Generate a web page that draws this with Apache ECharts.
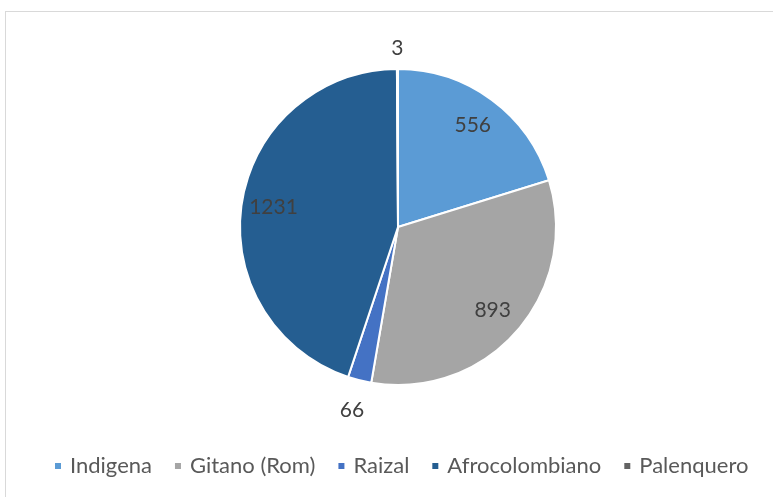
<!DOCTYPE html>
<html><head><meta charset="utf-8">
<script src="https://cdn.jsdelivr.net/npm/echarts@6/dist/echarts.min.js"></script>
<style>
html,body{margin:0;padding:0;background:#fff;}
#frame{position:absolute;left:5px;top:11px;width:800px;height:520px;border:1px solid #d9d9d9;box-sizing:border-box;}
#c{position:absolute;left:0;top:0;width:773px;height:497px;}
</style></head>
<body>
<div id="frame"></div>
<div id="c"></div>
<script>
const categories = ['Indigena', 'Gitano (Rom)', 'Raizal', 'Afrocolombiano', 'Palenquero'];
const values = [556, 893, 66, 1231, 3];
const colors = ['#5B9BD5', '#A5A5A5', '#4472C4', '#255E91', '#636363'];

const chart = echarts.init(document.getElementById('c'), null, {renderer: 'canvas'});
const center = [398, 227];
const font = 'Lato, "Open Sans", sans-serif';

function mk(show) {
  return categories.map((n, i) => ({
    name: n, value: values[i],
    label: {show: show.indexOf(n) >= 0}
  }));
}
function ghost(name, outerR, show) {
  return {
    type: 'pie', name, center, radius: [0, outerR], startAngle: 90, clockwise: true, silent: true,
    itemStyle: {color: 'rgba(0,0,0,0)', borderWidth: 0},
    emphasis: {disabled: true}, labelLine: {show: false},
    legendHoverLink: false, animation: false,
    data: mk(show),
    label: {position: 'inside', formatter: '{c}', fontFamily: font, fontSize: 21, color: '#404040'}
  };
}
chart.setOption({
  animation: false,
  color: colors,
  legend: {
    data: categories, bottom: 15, left: 48,
    icon: 'rect', itemWidth: 8, itemHeight: 8, itemGap: 21,
    textStyle: {fontFamily: font, fontSize: 22, color: '#595959', padding: [0, 0, 0, 3]}
  },
  series: [
    {
      type: 'pie', name: 'main', center, radius: [0, 158], startAngle: 90, clockwise: true,
      data: categories.map((n, i) => ({name: n, value: values[i]})),
      itemStyle: {borderColor: '#fff', borderWidth: 2},
      label: {show: false}, labelLine: {show: false}, animation: false
    },
    ghost('inLabels', 246, ['Indigena', 'Gitano (Rom)', 'Afrocolombiano']),
    ghost('topLabel', 352, ['Palenquero']),
    ghost('bottomLabel', 372, ['Raizal'])
  ]
});
</script>
</body></html>
